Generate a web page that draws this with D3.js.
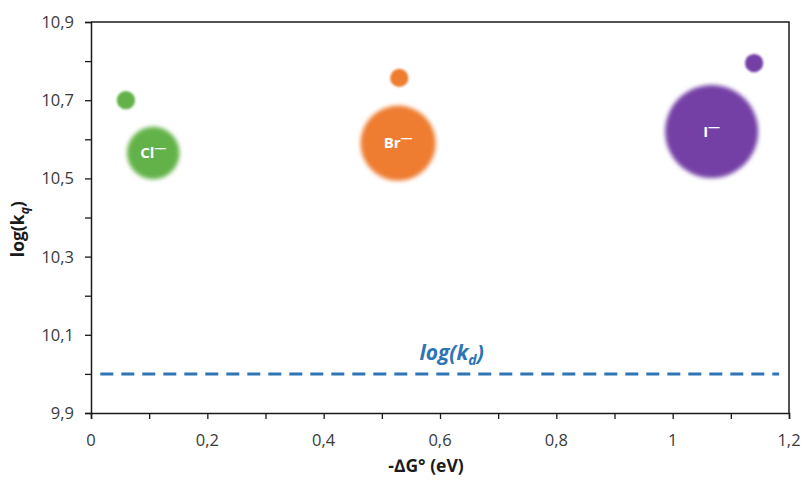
<!DOCTYPE html>
<html>
<head>
<meta charset="utf-8">
<script src="https://cdn.jsdelivr.net/npm/d3@7"></script>
<style>
  body { margin: 0; background: #fff; }
  text { font-family: "Open Sans", "Noto Sans", sans-serif; }
</style>
</head>
<body>
<div id="vis"></div>
<script>
const width = 803;
const height = 480;

// Data
const anions = ["Cl", "Br", "I"];
const colors = ["#64B24A", "#EE7D31", "#7440A6"];
const smallX = [0.06, 0.53, 1.14];
const smallY = [10.70, 10.757, 10.795];
const bigX = [0.107, 0.528, 1.067];
const bigY = [10.565, 10.59, 10.62];
const smallSize = [1, 1, 1];
const bigSize = [8.3, 17, 26];
const logKd = 10.0;
const xTicks = [0, 0.2, 0.4, 0.6, 0.8, 1, 1.2];
const yTicks = [9.9, 10.1, 10.3, 10.5, 10.7, 10.9];

const margin = {top: 22, right: 14, bottom: 67, left: 91};

const svg = d3.select("#vis").append("svg")
    .attr("width", width)
    .attr("height", height);

const x = d3.scaleLinear().domain([0, 1.2]).range([margin.left, width - margin.right]);
const y = d3.scaleLinear().domain([9.9, 10.9]).range([height - margin.bottom, margin.top]);
const r = d3.scaleSqrt().domain([0, 26]).range([0, 46.5]);

const fmt = d => d3.format("")(d).replace(".", ",");

const defs = svg.append("defs");
defs.append("filter").attr("id", "soft")
    .attr("x", "-20%").attr("y", "-20%").attr("width", "140%").attr("height", "140%")
  .append("feGaussianBlur").attr("stdDeviation", 1.2);
defs.append("filter").attr("id", "softer")
    .attr("x", "-20%").attr("y", "-20%").attr("width", "140%").attr("height", "140%")
  .append("feGaussianBlur").attr("stdDeviation", 2);

// dashed log(kd) line
svg.append("line")
    .attr("x1", x(0.016)).attr("x2", x(1.183))
    .attr("y1", y(logKd)).attr("y2", y(logKd))
    .attr("stroke", "#2E75B6")
    .attr("stroke-width", 3)
    .attr("stroke-dasharray", "13,8");

const kdLabel = svg.append("text")
    .attr("x", x(0.62)).attr("y", y(logKd) - 14)
    .attr("text-anchor", "middle")
    .attr("fill", "#2E75B6")
    .attr("font-size", 21)
    .attr("font-weight", "bold")
    .attr("font-style", "italic");
kdLabel.append("tspan").text("log(k");
kdLabel.append("tspan").attr("font-size", 14).attr("dy", 5).text("d");
kdLabel.append("tspan").attr("dy", -5).text(")");

// axes
const xAxis = d3.axisBottom(x).tickValues(d3.range(0, 1.21, 0.1)).tickSize(6).tickFormat("");
const yAxis = d3.axisLeft(y).tickValues(d3.range(9.9, 10.91, 0.1)).tickSize(6).tickFormat("");

svg.append("g")
    .attr("transform", `translate(0,${height - margin.bottom})`)
    .call(xAxis)
    .call(g => g.select(".domain").attr("stroke", "#1a1a1a").attr("stroke-width", 1.5))
    .call(g => g.selectAll(".tick line").attr("stroke", "#1a1a1a").attr("stroke-width", 1.3));

svg.append("g")
    .attr("transform", `translate(${margin.left},0)`)
    .call(yAxis)
    .call(g => g.select(".domain").attr("stroke", "#1a1a1a").attr("stroke-width", 1.5))
    .call(g => g.selectAll(".tick line").attr("stroke", "#1a1a1a").attr("stroke-width", 1.3));

// top and right border
svg.append("path")
    .attr("d", `M${x(0)},${y(10.9)}H${x(1.2)}V${y(9.9)}`)
    .attr("fill", "none")
    .attr("stroke", "#1a1a1a")
    .attr("stroke-width", 1.5);

svg.append("g").selectAll("text")
    .data(xTicks)
    .join("text")
    .attr("x", d => x(d))
    .attr("y", height - margin.bottom + 33)
    .attr("text-anchor", "middle")
    .attr("fill", "#3a3a3a")
    .attr("font-size", 16.5)
    .text(fmt);

svg.append("g").selectAll("text")
    .data(yTicks)
    .join("text")
    .attr("x", margin.left - 17)
    .attr("y", d => y(d))
    .attr("dy", "0.36em")
    .attr("text-anchor", "end")
    .attr("fill", "#3a3a3a")
    .attr("font-size", 16.5)
    .text(fmt);

// axis titles
svg.append("text")
    .attr("x", x(0.6) - 14)
    .attr("y", height - 8)
    .attr("text-anchor", "middle")
    .attr("font-size", 17.5)
    .attr("font-weight", "bold")
    .attr("fill", "#1a1a1a")
    .text("-\u2206G\u00b0 (eV)");

const yTitle = svg.append("text")
    .attr("transform", `translate(24,${y(10.37)}) rotate(-90)`)
    .attr("text-anchor", "middle")
    .attr("font-size", 17.5)
    .attr("font-weight", "bold")
    .attr("fill", "#1a1a1a");
yTitle.append("tspan").text("log(k");
yTitle.append("tspan").attr("font-size", 12).attr("font-style", "italic").attr("dy", 5).text("q");
yTitle.append("tspan").attr("dy", -5).text(")");

// bubbles
const idx = d3.range(anions.length);

svg.append("g").selectAll("circle")
    .data(idx)
    .join("circle")
    .attr("cx", i => x(smallX[i]))
    .attr("cy", i => y(smallY[i]))
    .attr("r", i => r(smallSize[i]))
    .attr("fill", i => colors[i])
    .attr("filter", "url(#soft)");

svg.append("g").selectAll("circle")
    .data(idx)
    .join("circle")
    .attr("cx", i => x(bigX[i]))
    .attr("cy", i => y(bigY[i]))
    .attr("r", i => r(bigSize[i]))
    .attr("fill", i => colors[i])
    .attr("filter", "url(#softer)");

const labels = svg.append("g").selectAll("text")
    .data(idx)
    .join("text")
    .attr("x", i => x(bigX[i]))
    .attr("y", i => y(bigY[i]))
    .attr("dy", "0.35em")
    .attr("text-anchor", "middle")
    .attr("fill", "#fff")
    .attr("font-size", 15)
    .attr("font-weight", "bold");
labels.append("tspan").text(i => anions[i]);
labels.append("tspan").attr("font-size", 12).attr("dy", -6).text("\u2014");
</script>
</body>
</html>
